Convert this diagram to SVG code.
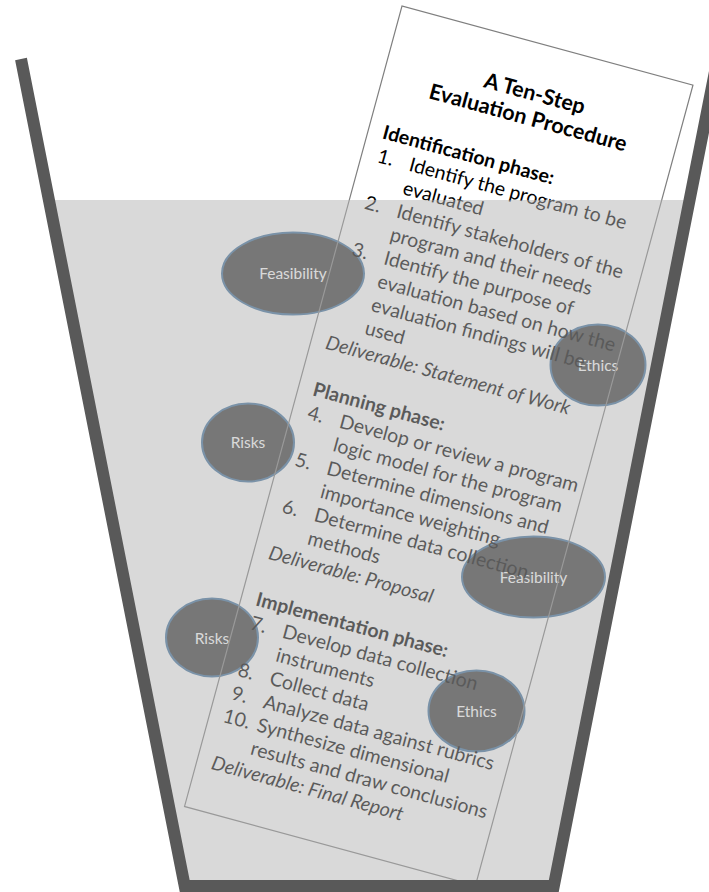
<svg xmlns="http://www.w3.org/2000/svg" width="709" height="892" viewBox="0 0 709 892">
<style>
.t{font-family:Lato,"Open Sans","Liberation Sans",sans-serif;font-size:19.5px;fill:#000}
.b{font-weight:bold}
.i{font-style:italic}
.h{font-family:Lato,"Open Sans","Liberation Sans",sans-serif;font-size:21.5px;font-weight:bold;text-anchor:middle;fill:#000}
.node ellipse{fill:#3a3a3a;stroke:#41719c;stroke-width:2}
.node text{font-family:Lato,"Open Sans","Liberation Sans",sans-serif;font-size:15.5px;fill:#fff;text-anchor:middle}
</style>
<rect width="709" height="892" fill="#fff"/>
<g id="feasibility-1" class="node"><ellipse cx="293" cy="273.5" rx="71" ry="41"/><text x="293" y="279">Feasibility</text></g>
<g id="ethics-1" class="node"><ellipse cx="598" cy="365" rx="47.5" ry="40.5"/><text x="598" y="371">Ethics</text></g>
<g id="risks-1" class="node"><ellipse cx="248" cy="442.5" rx="46" ry="39"/><text x="248" y="448">Risks</text></g>
<g id="feasibility-2" class="node"><ellipse cx="533.5" cy="577" rx="71.5" ry="40.5"/><text x="533.5" y="583">Feasibility</text></g>
<g id="risks-2" class="node"><ellipse cx="212" cy="637.5" rx="46" ry="39"/><text x="212" y="644">Risks</text></g>
<g id="ethics-2" class="node"><ellipse cx="476.5" cy="711" rx="48" ry="40.5"/><text x="476.5" y="717">Ethics</text></g>
<g id="connectors"/>
<g id="procedure" transform="translate(402,6) rotate(15.2)">
<rect x="0" y="0" width="301.5" height="829.5" fill="none" stroke="#7f7f7f" stroke-width="1.2"/>
<text class="h" x="151" y="57">A Ten-Step</text>
<text class="h" x="151" y="82">Evaluation Procedure</text>
<g class="t">
<text class="b" x="15" y="133">Identification phase:</text>
<text x="16" y="157.2">1.</text><text x="49" y="157.2">Identify the program to be</text>
<text x="49" y="181.4">evaluated</text>
<text x="16" y="205.6">2.</text><text x="49" y="205.6">Identify stakeholders of the</text>
<text x="49" y="229.8">program and their needs</text>
<text x="16" y="254">3.</text><text x="49" y="254">Identify the purpose of</text>
<text x="49" y="278.2">evaluation based on how the</text>
<text x="49" y="302.4">evaluation findings will be</text>
<text x="49" y="326.6">used</text>
<text class="i" x="15" y="350.8">Deliverable: Statement of Work</text>
<text class="b" x="15" y="399.2">Planning phase:</text>
<text x="16" y="423.4">4.</text><text x="49" y="423.4">Develop or review a program</text>
<text x="49" y="447.6">logic model for the program</text>
<text x="16" y="471.8">5.</text><text x="49" y="471.8">Determine dimensions and</text>
<text x="49" y="496">importance weighting</text>
<text x="16" y="520.2">6.</text><text x="49" y="520.2">Determine data collection</text>
<text x="49" y="544.4">methods</text>
<text class="i" x="15" y="568.6">Deliverable: Proposal</text>
<text class="b" x="15" y="617">Implementation phase:</text>
<text x="16" y="641.2">7.</text><text x="49" y="641.2">Develop data collection</text>
<text x="49" y="665.4">instruments</text>
<text x="16" y="689.6">8.</text><text x="49" y="689.6">Collect data</text>
<text x="16" y="713.8">9.</text><text x="49" y="713.8">Analyze data against rubrics</text>
<text x="14" y="738">10.</text><text x="49" y="738">Synthesize dimensional</text>
<text x="49" y="762.2">results and draw conclusions</text>
<text class="i" x="15" y="786.4">Deliverable: Final Report</text>
</g>
</g>
<polygon id="liquid" points="48.9,200 689.6,200 554,886 184.7,886" fill="#b3b3b3" fill-opacity="0.5"/>
<path id="bucket" d="M21,59 L184.7,886 L553.8,886 L717.5,59" fill="none" stroke="#595959" stroke-width="12" stroke-linejoin="miter"/>
</svg>
